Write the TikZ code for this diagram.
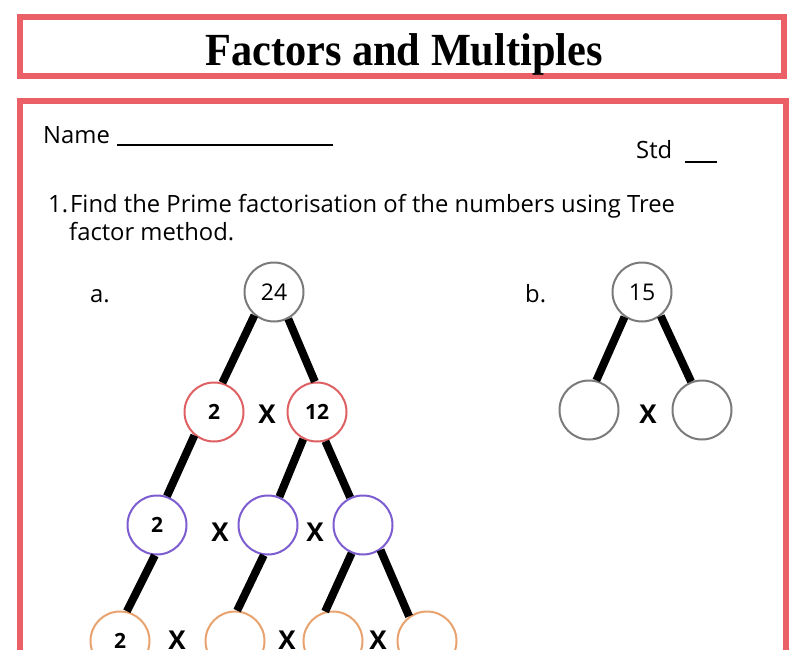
\documentclass[tikz,border=0pt]{standalone}
\usepackage{fontspec}
\setmainfont{Open Sans}
\newfontfamily\titlefont{Liberation Serif}
\usetikzlibrary{positioning}
\definecolor{FrameRed}{RGB}{234,96,102}
\definecolor{RingGrey}{RGB}{122,122,122}
\definecolor{RingRed}{RGB}{222,96,98}
\definecolor{RingPurple}{RGB}{124,92,208}
\definecolor{RingOrange}{RGB}{232,162,110}

\begin{document}
\begin{tikzpicture}[x=1pt,y=-1pt,
frame/.style={draw=FrameRed,line width=6pt},
txt/.style={inner sep=0pt,font=\fontsize{23.8}{28}\selectfont},
ring/.style={circle,draw=RingGrey,line width=2pt,minimum size=59pt,inner sep=0pt,
font=\fontsize{23}{23}\selectfont},
redring/.style={ring,draw=RingRed,font=\fontsize{21}{21}\selectfont\bfseries},
purpring/.style={ring,draw=RingPurple,font=\fontsize{21}{21}\selectfont\bfseries},
orring/.style={ring,draw=RingOrange,font=\fontsize{21}{21}\selectfont\bfseries},
times/.style={inner sep=0pt,font=\fontsize{26}{26}\selectfont\bfseries},
branch/.style={line width=8pt}
]
\useasboundingbox (0,0) rectangle (800,650);
\clip (0,0) rectangle (800,650);

% frames
\draw[frame] (20,17.5) rectangle (784,76);
\draw[frame] (20,101) rectangle (786,720);
\node[inner sep=0pt,anchor=base] (title) at (404,66)
{\scalebox{0.92}[1]{\titlefont\bfseries\fontsize{46}{46}\selectfont Factors and Multiples}};

% header lines
\node[txt,anchor=base west] (name) at (43,143) {Name};
\draw[line width=1.5pt] (117,145) -- (333,145);
\node[txt,anchor=base west] (std) at (636,158) {Std};
\draw[line width=1.5pt] (685,162) -- (717,162);

% question
\node[txt,anchor=base west] (qnum) at (48,212) {1.};
\node[txt,anchor=base west] (qline) at (70,212) {Find the Prime factorisation of the numbers using Tree};
\node[txt,anchor=base west] (qline2) at (69,240) {factor method.};

% tree a
\node[txt,anchor=base west] (parta) at (90,302) {a.};
\node[ring] (n24) at (274,292) {24};
\node[redring] (r2) at (214,412) {2};
\node[redring] (r12) at (317,412) {12};
\node[times] (x1) at (267,414) {X};
\node[purpring] (p2) at (157,525) {2};
\node[purpring] (pa) at (268,525) {};
\node[purpring] (pb) at (363,525) {};
\node[times] (x2) at (220,532) {X};
\node[times] (x3) at (315,532) {X};
\node[orring] (o2) at (120,641) {2};
\node[orring] (oa) at (235,641) {};
\node[orring] (ob) at (333,641) {};
\node[orring] (oc) at (427,641) {};
\node[times] (x4) at (177,640) {X};
\node[times] (x5) at (287,640) {X};
\node[times] (x6) at (378,640) {X};

\draw[branch] (n24.230) -- (r2.74);
\draw[branch] (n24.298) -- (r12.94);
\draw[branch] (r2.230) -- (p2.71);
\draw[branch] (r12.243) -- (pa.68);
\draw[branch] (r12.286) -- (pb.115);
\draw[branch] (p2.266) -- (o2.77);
\draw[branch] (pa.262) -- (oa.86);
\draw[branch] (pb.248) -- (ob.105);
\draw[branch] (pb.305) -- (oc.126);

% tree b
\node[txt,anchor=base west] (partb) at (525,302) {b.};
\node[ring] (n15) at (642,292) {15};
\node[ring] (bl) at (589,410) {};
\node[ring] (br) at (702,410) {};
\node[times] (x7) at (648,414) {X};
\draw[branch] (n15.235) -- (bl.76);
\draw[branch] (n15.308) -- (br.111);
\end{tikzpicture}
\end{document}
